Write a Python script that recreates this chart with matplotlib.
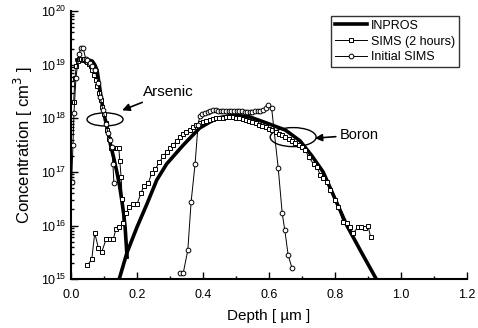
import numpy as np
import matplotlib
matplotlib.use("Agg")
import matplotlib.pyplot as plt
from matplotlib.patches import Ellipse
from matplotlib.ticker import LogLocator, MultipleLocator

plt.rcParams['font.family'] = ['Liberation Sans', 'DejaVu Sans']

# INPROS simulation, arsenic and boron branches
inpros_as_x = [0.018, 0.03, 0.045, 0.064, 0.072, 0.079, 0.088, 0.095, 0.103, 0.112,
               0.12, 0.13, 0.139, 0.147, 0.154, 0.16, 0.164, 0.17]
inpros_as_y = [19.09, 19.1, 19.1, 19.07, 19.0, 18.9, 18.53, 18.25, 18.0, 17.75,
               17.5, 17.25, 17.0, 16.75, 16.47, 16.2, 15.97, 15.41]
inpros_b_x = [0.148, 0.17, 0.2, 0.23, 0.26, 0.29, 0.34, 0.39, 0.44, 0.49, 0.54,
              0.594, 0.65, 0.694, 0.73, 0.764, 0.8, 0.836, 0.88, 0.927]
inpros_b_y = [15.04, 15.5, 15.97, 16.4, 16.85, 17.15, 17.5, 17.82, 18.0, 18.06, 18.03,
              17.91, 17.78, 17.58, 17.3, 17.0, 16.5, 16.0, 15.5, 14.98]

# SIMS after 2 hours
sims_as_x = [0.008, 0.012, 0.016, 0.02, 0.025, 0.03, 0.035, 0.04, 0.045, 0.05, 0.055,
             0.06, 0.065, 0.07, 0.075, 0.08, 0.085, 0.09, 0.095, 0.1, 0.105, 0.11,
             0.115, 0.12, 0.125, 0.13, 0.135, 0.14, 0.145, 0.148, 0.152, 0.155, 0.158]
sims_as_y = [18.3, 18.75, 18.98, 19.07, 19.1, 19.1, 19.08, 19.1, 19.07, 19.05, 19.02,
             18.98, 18.9, 18.8, 18.72, 18.6, 18.48, 18.35, 18.22, 18.08, 17.92, 17.78,
             17.62, 17.44, 17.44, 17.44, 17.44, 17.44, 17.44, 17.2, 16.9, 16.5, 16.04]
sims_b_x = [0.05, 0.063, 0.072, 0.083, 0.093, 0.106, 0.118, 0.128, 0.136, 0.146, 0.158,
            0.167, 0.176, 0.189, 0.2, 0.212, 0.221, 0.234, 0.245, 0.255, 0.268, 0.28,
            0.29, 0.3, 0.31, 0.32, 0.33, 0.34, 0.35, 0.36, 0.37, 0.38, 0.39, 0.4, 0.41,
            0.42, 0.43, 0.44, 0.45, 0.46, 0.47, 0.48, 0.49, 0.5, 0.51, 0.52, 0.53, 0.54,
            0.55, 0.56, 0.57, 0.58, 0.59, 0.6, 0.61, 0.62, 0.63, 0.64, 0.65, 0.66, 0.67,
            0.68, 0.69, 0.7, 0.71, 0.72, 0.735, 0.745, 0.755, 0.765, 0.775, 0.785, 0.8,
            0.81, 0.825, 0.835, 0.845, 0.855, 0.87, 0.88, 0.89, 0.9, 0.908]
sims_b_y = [15.26, 15.37, 15.86, 15.58, 15.5, 15.74, 15.74, 15.74, 15.93, 15.97, 16.04,
            16.23, 16.34, 16.4, 16.4, 16.6, 16.74, 16.79, 16.98, 17.05, 17.18, 17.3,
            17.37, 17.44, 17.5, 17.58, 17.65, 17.7, 17.74, 17.79, 17.84, 17.88, 17.91, 17.93, 17.95,
            17.97, 17.98, 18.0, 18.0, 18.01, 18.02, 18.02, 18.02, 18.01, 18.0, 17.99, 17.97, 17.95,
            17.93, 17.91, 17.88, 17.86, 17.84, 17.81, 17.78, 17.74, 17.71, 17.68, 17.65, 17.62, 17.58,
            17.54, 17.5, 17.47, 17.41, 17.28, 17.15, 17.09, 16.95, 16.88, 16.81, 16.66, 16.47,
            16.34, 16.06, 16.04, 15.97, 15.86, 15.97, 15.97, 15.95, 16.0, 15.78]

# initial SIMS
init_as_x = [0.002, 0.006, 0.009, 0.015, 0.024, 0.03, 0.037, 0.045, 0.05, 0.057, 0.065,
             0.073, 0.082, 0.088, 0.097, 0.106, 0.112, 0.118, 0.124, 0.127, 0.13]
init_as_y = [16.82, 17.5, 18.1, 18.75, 19.2, 19.31, 19.31, 19.1, 19.08, 19.04, 18.98,
             18.9, 18.66, 18.4, 18.15, 17.9, 17.72, 17.6, 17.46, 17.15, 16.8]
init_b_x = [0.33, 0.34, 0.354, 0.364, 0.376, 0.385, 0.39, 0.398, 0.406, 0.414, 0.422,
            0.43, 0.438, 0.446, 0.454, 0.462, 0.47, 0.478, 0.486, 0.494, 0.502, 0.51,
            0.518, 0.526, 0.534, 0.542, 0.55, 0.558, 0.566, 0.574, 0.582, 0.59, 0.597,
            0.608, 0.628, 0.64, 0.648, 0.658, 0.67]
init_b_y = [15.11, 15.11, 15.54, 16.44, 17.15, 17.87, 18.04, 18.08, 18.1, 18.12, 18.14,
            18.15, 18.15, 18.14, 18.14, 18.14, 18.13, 18.13, 18.13, 18.13, 18.13, 18.13,
            18.13, 18.12, 18.12, 18.12, 18.12, 18.13, 18.13, 18.14, 18.16, 18.2, 18.25,
            18.19, 17.07, 16.23, 15.91, 15.45, 15.2]

fig = plt.figure(figsize=(4.78, 3.28), dpi=100)
ax = fig.add_axes([0.1485, 0.149, 0.8285, 0.817])

p = lambda v: 10.0 ** np.array(v)

ax.plot(inpros_as_x, p(inpros_as_y), color='black', lw=2.6, label='INPROS')
ax.plot(inpros_b_x, p(inpros_b_y), color='black', lw=2.6)
ax.plot(sims_as_x, p(sims_as_y), color='black', lw=0.7, marker='s', ms=3.2,
        mfc='white', mew=0.7, label='SIMS (2 hours)')
ax.plot(sims_b_x, p(sims_b_y), color='black', lw=0.7, marker='s', ms=3.2,
        mfc='white', mew=0.7)
ax.plot(init_as_x, p(init_as_y), color='black', lw=0.7, marker='o', ms=3.4,
        mfc='white', mew=0.7, label='Initial SIMS')
ax.plot(init_b_x, p(init_b_y), color='black', lw=0.7, marker='o', ms=3.4,
        mfc='white', mew=0.7)

ax.set_yscale('log')
ax.set_xlim(0, 1.2)
ax.set_ylim(1e15, 1e20)
ax.xaxis.set_major_locator(MultipleLocator(0.2))
ax.xaxis.set_minor_locator(MultipleLocator(0.1))
ax.yaxis.set_major_locator(LogLocator(base=10, numticks=10))
ax.yaxis.set_minor_locator(LogLocator(base=10, subs=np.arange(2, 10), numticks=10))
ax.tick_params(which='both', direction='in', labelsize=9, width=1)
ax.tick_params(axis='x', pad=7)
ax.tick_params(which='major', length=5)
ax.tick_params(which='minor', length=2.5)
for s in ['top', 'right']:
    ax.spines[s].set_visible(False)
for s in ['left', 'bottom']:
    ax.spines[s].set_linewidth(1.5)

ax.set_xlabel('Depth [ \u00b5m ]', fontsize=11, labelpad=6)
ax.set_ylabel('Concentration [ cm$^3$ ]', fontsize=12, labelpad=4)

# annotation ellipses and arrows
ax.add_patch(Ellipse((0.086, 0.596), 0.091, 0.049, transform=ax.transAxes,
                     fill=False, lw=1, ec='black'))
ax.add_patch(Ellipse((0.561, 0.53), 0.116, 0.071, transform=ax.transAxes,
                     fill=False, lw=1, ec='black'))
ax.annotate('Arsenic', xy=(0.155, 10**18.15), xytext=(0.218, 10**18.49),
            fontsize=11, va='center', ha='left',
            arrowprops=dict(arrowstyle='-|>', color='black', lw=1.2, shrinkA=1, shrinkB=0))
ax.annotate('Boron', xy=(0.739, 10**17.63), xytext=(0.815, 10**17.69),
            fontsize=10.5, va='center', ha='left',
            arrowprops=dict(arrowstyle='-|>', color='black', lw=1.2, shrinkA=1, shrinkB=0))

leg = ax.legend(loc='upper right', bbox_to_anchor=(0.995, 1.005), fontsize=9,
                frameon=True, fancybox=False, edgecolor='black', handlelength=2.6,
                borderpad=0.3, labelspacing=0.3, handletextpad=0.3)
leg.get_frame().set_linewidth(1)

fig.savefig('out.png', dpi=100)
